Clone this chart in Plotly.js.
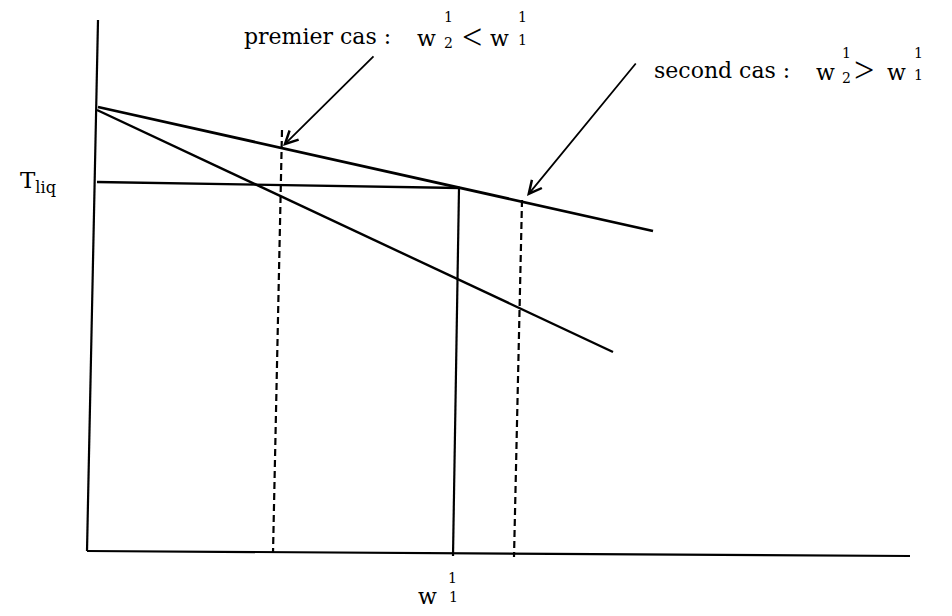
<!DOCTYPE html>
<html>
<head>
<meta charset="utf-8">
<script src="https://cdn.plot.ly/plotly-3.0.1.min.js"></script>
<style>
    html, body { margin: 0; padding: 0; background: #fff; }
    #diagram__graph { width: 952px; height: 616px; }
</style>
</head>
<body>
<div id="diagram__container">
    <div id="diagram__graph"></div>
</div>
<script>
// *********************************************************************************************
// DATA  (composition on x, temperature on y, arbitrary units)

const AXIS_Y_X = [11, 0]
const AXIS_Y_Y = [531, 0]
const AXIS_X_X = [0, 823]
const AXIS_X_Y = [0, -5]

// the two liquidus lines
const LIQ_UPPER_X = [11, 566]
const LIQ_UPPER_Y = [444, 320]
const LIQ_LOWER_X = [10, 526]
const LIQ_LOWER_Y = [441, 199]

// T_liq level
const TLIQ_X = [10, 373]
const TLIQ_Y = [369, 363]

// w_1^1 (solid) and the two cases (dashed)
const W11_X = [372, 366]
const W11_Y = [363, -5]
const CASE1_X = [195, 186]
const CASE1_Y = [421, -2]
const CASE2_X = [435, 427]
const CASE2_Y = [351, -6]

// arrows: [tail, head], label -> point on the upper liquidus
const ARROW1_X = [288, 196]
const ARROW1_Y = [496, 405]
const ARROW2_X = [550, 440]
const ARROW2_Y = [489, 355]


const diagram = () => {
    const div = document.getElementById('diagram__graph');

    const line = (x, y, w, dash) => ({
        type: 'scatter',
        mode: 'lines',
        x: x,
        y: y,
        line: { color: '#000', width: w, dash: dash || 'solid' },
        hoverinfo: 'skip'
    });

    let data = [
        line(AXIS_Y_X, AXIS_Y_Y, 2.2),
        line(AXIS_X_X, AXIS_X_Y, 2.2),
        line(LIQ_UPPER_X, LIQ_UPPER_Y, 2.8),
        line(LIQ_LOWER_X, LIQ_LOWER_Y, 2.4),
        line(TLIQ_X, TLIQ_Y, 2.4),
        line(W11_X, W11_Y, 2.2),
        line(CASE1_X, CASE1_Y, 2.2, '7px,4px'),
        line(CASE2_X, CASE2_Y, 2.2, '7px,4px')
    ];


    // *********************************************************************************************
    // LABELS

    const FONT = 'DejaVu Serif, serif';
    const THIN = 'Liberation Serif, serif';

    const txt = (x, y, text, size, xanchor, family) => ({
        x: x, y: y, text: text,
        showarrow: false,
        xanchor: xanchor || 'center',
        yanchor: 'middle',
        font: { family: family || FONT, size: size, color: '#000' }
    });

    const arrow = (xs, ys) => ({
        x: xs[1], y: ys[1], ax: xs[0], ay: ys[0],
        axref: 'x', ayref: 'y',
        text: '',
        showarrow: true,
        arrowhead: 5,
        arrowsize: 1.4,
        arrowwidth: 1.8,
        arrowcolor: '#000'
    });

    let annotations = [
        // premier cas : w2^1 < w1^1
        txt(155, 515, 'premier cas\u00a0:', 22, 'left'),
        txt(339, 513, 'w', 22),
        txt(361, 534, '1', 14),
        txt(361, 508, '2', 14),
        txt(385, 514, '<', 36, 'center', THIN),
        txt(412, 513, 'w', 22),
        txt(435, 534, '1', 14),
        txt(435, 511, '1', 14),

        // second cas : w2^1 > w1^1
        txt(565, 481, 'second cas\u00a0:', 22, 'left'),
        txt(738, 479, 'w', 22),
        txt(759, 498, '1', 14),
        txt(759, 473, '2', 14),
        txt(777, 481, '>', 36, 'center', THIN),
        txt(809, 479, 'w', 22),
        txt(831, 498, '1', 14),
        txt(831, 476, '1', 14),

        // axis labels
        txt(-69, 369, 'T<sub>liq</sub>', 23, 'left'),
        txt(340, -45, 'w', 22),
        txt(365, -27, '1', 14),
        txt(366, -46, '1', 14),

        arrow(ARROW1_X, ARROW1_Y),
        arrow(ARROW2_X, ARROW2_Y)
    ];


    // *********************************************************************************************
    // LAYOUT

    let layout = {
        width: 952,
        height: 616,
        margin: { t: 0, r: 0, b: 0, l: 0 },
        paper_bgcolor: '#fff',
        plot_bgcolor: '#fff',
        showlegend: false,
        xaxis: { range: [-87, 865], visible: false, fixedrange: true },
        yaxis: { range: [-65, 551], visible: false, fixedrange: true },
        annotations: annotations
    }


    // *********************************************************************************************
    // CONFIG

    const config = {
        displaylogo: false,
        displayModeBar: false,
        staticPlot: true
    }

    Plotly.newPlot(div, data, layout, config);
};

diagram();
</script>
</body>
</html>
